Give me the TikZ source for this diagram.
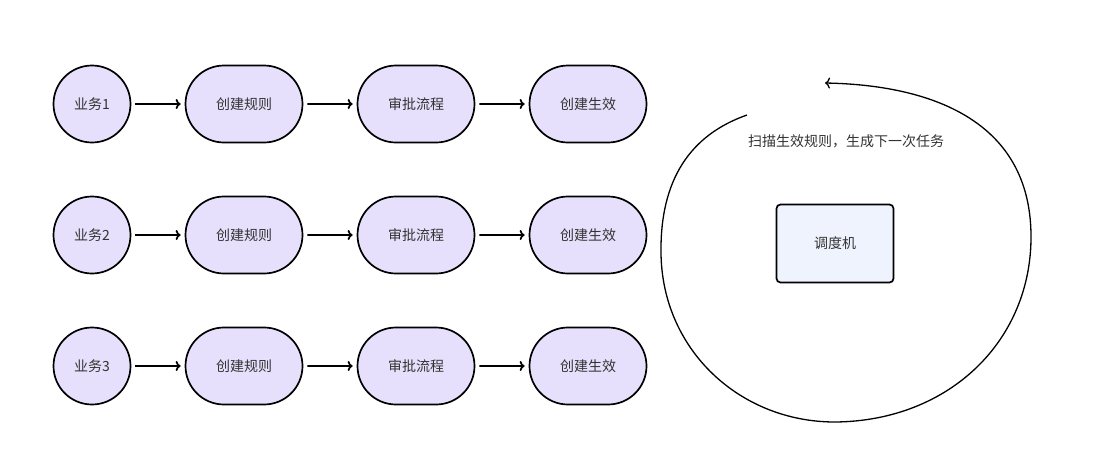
\documentclass[tikz,border=0pt]{standalone}
\usepackage{fontspec}
\setmainfont{Noto Sans CJK SC}
\usetikzlibrary{arrows.meta,shapes.misc}
\definecolor{nodefill}{HTML}{E6E0FC}
\definecolor{boxfill}{HTML}{EEF3FD}
\definecolor{txt}{HTML}{333333}
\tikzset{
  x=1pt, y=-1pt,
  every node/.style={font=\fontsize{14}{16}\selectfont, text=txt},
  biz/.style={circle, draw=black, line width=1.7pt, fill=nodefill, minimum size=77pt, inner sep=0pt},
  stage/.style={rounded rectangle, draw=black, line width=1.7pt, fill=nodefill, minimum width=117pt, minimum height=77pt, inner sep=0pt},
  flow/.style={-{To[length=5pt,width=10pt]}, line width=1.7pt, shorten <=4pt, shorten >=4pt},
  sched/.style={rectangle, rounded corners=4pt, draw=black, line width=1.7pt, fill=boxfill, minimum width=117pt, minimum height=78pt},
}
\begin{document}
\begin{tikzpicture}
\useasboundingbox (0,0) rectangle (1098,475);
\foreach \i/\y in {1/104,2/235,3/366}{
  \node[biz]   (b\i) at (92,\y)  {业务\i};
  \node[stage] (c\i) at (244,\y) {创建规则};
  \node[stage] (a\i) at (416,\y) {审批流程};
  \node[stage] (e\i) at (588,\y) {创建生效};
  \draw[flow] (b\i) -- (c\i);
  \draw[flow] (c\i) -- (a\i);
  \draw[flow] (a\i) -- (e\i);
}
\node[sched] (s) at (835,243.5) {调度机};
\node (lbl) at (846,141) {扫描生效规则，生成下一次任务};
\coordinate (loopstart) at (747,115);
\coordinate (loopend) at (825,83);
\draw[line width=1.3pt, -{To[length=5pt,width=11pt]}]
  (loopstart) .. controls (690,135) and (660,180) .. (661,253)
  .. controls (662,350) and (740,422) .. (835,422)
  .. controls (950,421) and (1032,340) .. (1031,235)
  .. controls (1030,120) and (930,85) .. (loopend);
\end{tikzpicture}
\end{document}
